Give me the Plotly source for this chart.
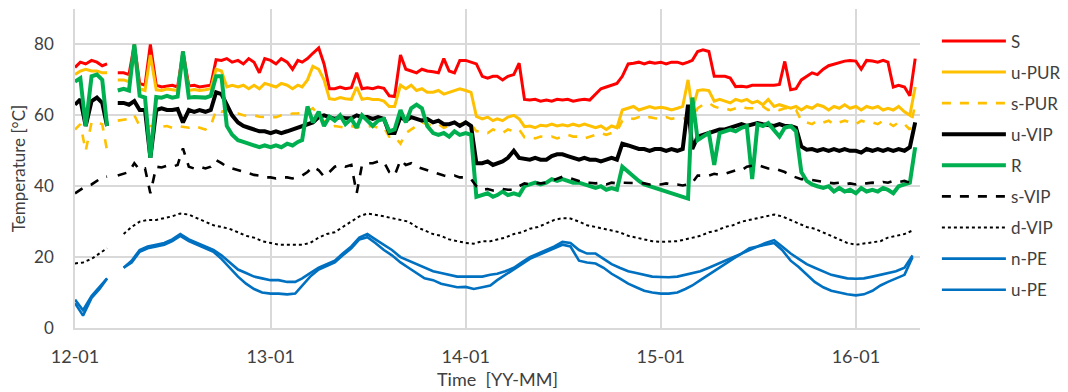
import plotly.graph_objects as go

# ---------------- sampling dates ----------------
MONTHS = [f"{y}-{m:02d}" for y in range(2012, 2017) for m in range(1, 13)][:52]
DATES_10D = [f"{ym}-{d:02d}" for ym in MONTHS for d in (1, 11, 21)]
DATES_15D = [f"{ym}-{d:02d}" for ym in MONTHS for d in (1, 16)]

YEAR_TICKS = ["2012-01-01", "2013-01-01", "2014-01-01", "2015-01-01", "2016-01-01"]
Y_TICKS = [0, 20, 40, 60, 80]

# ---------------- series (10-day sampling) ----------------
S = [
    73.5, 75, 74.5, 75.5, 75, 74, 74.5, None, 72, 72, 71.5, 80, 69, 68.5, 80, 68.5, 68, 68.3,
    68.5, 68, 78, 68.3, 68.5, 68, 68.2, 68.5, 75.7, 75.5, 76, 75, 75.5, 74.5, 76, 75, 72, 76,
    75.5, 74.5, 76, 75, 73, 75.5, 75, 76, 77.5, 79, 74.5, 67.5, 67.5, 68, 67.5, 67.8, 72, 67.5,
    67.8, 67.5, 68, 67.6, 65.5, 65.3, 77, 73, 72.5, 72, 73, 72.5, 72.3, 72, 76, 72.5, 72, 75.5,
    75.5, 75, 74.5, 71, 70.5, 71, 71, 70, 71, 71.5, 74.7, 64.5, 64.3, 64.5, 64, 64.3, 64, 64.5,
    64.3, 64.5, 64, 64.3, 64.5, 64.3, 66, 67.5, 68, 68.5, 69, 71, 74.5, 74.7, 75, 74.5, 75, 74.7,
    75, 74.5, 75, 75, 74.5, 75, 75.5, 78, 78.5, 78, 71, 71, 71, 70.5, 68.1, 68.2, 68, 68.5,
    68.5, 68.3, 68.5, 68.5, 68.7, 75.2, 67.2, 67.5, 70, 71, 72, 71.5, 73, 74, 74.5, 75, 75.3, 75.5,
    75.3, 73, 75.5, 75.3, 75, 75.5, 75, 68, 68.5, 68, 65.5, 76,
]
U_PUR = [
    71.5, 72.5, 73, 72.5, 72.5, 72, 72, None, 70, 70, 69.5, 78, 67.5, 67, 77, 67.2, 67, 67.4,
    67.2, 67, 77, 67, 67.3, 67, 67.2, 67.5, 73, 72.5, 68, 68.5, 68, 68.5, 67.5, 68.5, 67.5, 69,
    68.5, 68, 69, 68.5, 67.5, 68.5, 68, 70, 73.8, 73, 70, 64.7, 64.5, 65, 64.7, 64.5, 68, 64.5,
    64.8, 64.5, 64.5, 64, 62.5, 62.5, 68.5, 67.5, 68.5, 67, 67.5, 66.5, 66.5, 67, 66, 66.5, 67, 67.5,
    67, 66.5, 59.7, 59, 59.5, 58.5, 59, 58.5, 59.5, 60, 59, 56.8, 57, 56.5, 57.2, 57, 57.5, 57,
    57.3, 57, 57.5, 57, 57.5, 57, 56.5, 57, 56, 57, 56.5, 61.5, 62, 62.5, 61.5, 62, 62.5, 62,
    62.3, 62, 61.5, 62, 62.5, 70, 61.5, 67, 67.2, 67, 64, 64.5, 64, 63.5, 64.5, 64, 64.5, 63.5,
    64, 63, 64.5, 62.5, 63, 62.5, 62, 62.5, 61.5, 62.5, 62, 63, 62.5, 61.5, 62.5, 62, 63, 62,
    62.5, 61.5, 62.5, 62, 62.5, 61.5, 62, 61.5, 62.5, 61, 60, 68,
]
S_PUR = [
    56, 57.5, 50, 58, 58, 57.5, 50, None, 58.5, 58.7, 59, 60, 57, 56.5, 57, 57, 56.8, 57,
    56.5, 57, 56.8, 56.5, 57, 56.5, 56, 57, 61.5, 61, 61.5, 60.5, 60.5, 60, 59.8, 60, 59.6, 59.5,
    59.6, 59.5, 60, 60, 60.5, 60.5, 61, 61, 62, 60, 58, 56.5, 57, 56.8, 56.5, 57, 56.5, 57,
    56.8, 57, 56.5, 56.5, 54, 54, 52, 55, 56, 57, 58, 57.5, 57, 57.5, 56.5, 57, 57.5, 57.5,
    58, 57.5, 55.5, 55.5, 55, 56, 55.5, 55, 56, 55.5, 56, 53.8, 54, 53.5, 54, 53.8, 54, 53.5,
    54, 54.5, 54, 54, 53.5, 54, 54.5, 55, 54.5, 55, 55.5, 58.5, 59.2, 59, 59.5, 59, 59.5, 59.2,
    59, 59.5, 59, 59.3, 59, 59.5, 59, 62, 63, 63.5, 62.5, 62, 62, 61.5, 62, 62.5, 62, 62,
    62, 62.5, 61.5, 62, 61.5, 62, 62, 61.5, 58.5, 58, 57.5, 58.5, 58, 58.5, 57.5, 58, 58.5, 58,
    57.5, 58.5, 58, 58, 57.5, 58.5, 58, 57, 58, 57.5, 56, 63,
]
U_VIP = [
    63, 64.5, 57, 64, 65, 63.5, 57, None, 63.5, 63.5, 63, 64, 61.5, 61.5, 48, 61.5, 62, 61.5,
    61.5, 61.8, 58, 61.5, 61, 61.5, 61, 61.5, 66.5, 66, 63, 60, 58, 57, 56.5, 56, 55.5, 55.5,
    55, 55.5, 55, 55.5, 56, 56.5, 57, 57.5, 58, 59.5, 60, 59.5, 59, 59.5, 59.2, 59.2, 60, 59.5,
    59.5, 59, 59.5, 59, 55, 55, 59.6, 58.5, 59.5, 59, 58.5, 59, 58, 58.5, 57.5, 57.5, 58, 57,
    58, 57, 46.5, 46.5, 47, 46, 46.5, 47, 48, 50, 48, 47.7, 47.5, 48, 47.5, 47.5, 48.5, 49,
    49, 48.5, 48, 47.5, 48, 47.5, 47.5, 47, 47.5, 48, 47.5, 52, 51.5, 51, 50.5, 50.5, 50, 50.5,
    50.5, 50, 50.5, 50, 50.5, 63, 50.5, 54, 54.5, 55, 55.5, 56, 56, 56.5, 57, 57.5, 57, 57.5,
    57.8, 57.5, 57.2, 57, 57.5, 57, 57, 56.5, 51.2, 50.3, 50.5, 50, 50.5, 50, 50.5, 50, 50.5, 50,
    50, 49.5, 50.5, 50, 50.5, 50, 50.5, 50, 50.5, 50, 51, 58,
]
R = [
    69.5, 70.5, 57, 71, 71.5, 70, 57, None, 67, 67.5, 67, 80, 65.5, 65, 48, 65.2, 65, 65.5,
    65, 65.3, 78, 65, 65.2, 65, 65, 65.5, 71, 71, 57, 54.5, 53, 52.5, 52, 51.5, 51, 51.5,
    51, 51.5, 51, 52, 51.5, 52.5, 53, 62.5, 58, 61, 57, 59.6, 58.5, 60, 57.5, 59, 56.5, 60,
    58.5, 57, 58.5, 59, 55.5, 56, 61.5, 58, 62, 63, 62, 57, 55, 54.5, 55, 54, 55.5, 54.5,
    55, 54.5, 37, 37.5, 38, 37, 37.5, 38.5, 37.5, 38, 37.5, 40, 40.5, 41, 40.5, 41, 42, 41.5,
    42, 41.5, 41, 41, 40.5, 40, 39.5, 40, 39, 39.5, 39, 45.5, 44, 42.5, 41.5, 40.5, 40, 39.5,
    39, 38.5, 38, 37.5, 37, 36.5, 65, 53, 54, 55, 46, 55, 55.5, 56, 55.5, 56.5, 57, 42,
    57.5, 57, 57.8, 56, 54, 56.5, 57, 55.5, 44, 41.5, 40.5, 40, 39.5, 40, 38.5, 39.5, 38.5, 39,
    38, 39.5, 38.5, 39, 38.5, 39.5, 39, 38, 40, 40.5, 41, 51,
]
S_VIP = [
    38, 39, 40, 40.5, 41.5, 42.5, 42.7, None, 43, 43.5, 44, 46.5, 44.6, 45, 38, 45.5, 45.3, 45.8,
    45.5, 46, 50.7, 45.5, 45, 45.5, 45, 45.5, 47.4, 46.5, 45.5, 45, 44.5, 44, 43.5, 43.2, 43, 42.5,
    42.5, 42.2, 42.5, 42.5, 42.2, 42.7, 43, 44, 45.5, 44.5, 42.7, 44, 45.5, 46, 45.5, 46, 38, 46,
    46.5, 46.5, 47, 46.8, 44, 43, 47.4, 46, 46.5, 45.5, 45, 44.5, 44, 43.5, 43, 42.7, 43, 42.5,
    42.5, 42, 40, 39, 39.2, 38.8, 39, 39.2, 39, 39, 40, 40.8, 40.5, 41, 40.8, 41, 41.5, 42,
    42.7, 42.5, 42, 41.5, 41, 41, 40.8, 41, 40.5, 41, 40.8, 41, 41, 40.8, 41, 40.8, 40.5, 40.7,
    40.5, 40.8, 40.5, 40.5, 40.2, 40.5, 41, 43, 43, 43, 43.5, 43.2, 43.5, 44, 44.5, 44.5, 45.5, 45.8,
    46, 45.5, 45, 45, 44.5, 44, 43, 42.5, 42, 42, 41.7, 41.5, 41.2, 41, 40.8, 41, 40.5, 40.8,
    40.5, 41, 40.8, 41, 40.8, 41.2, 41, 41.5, 41.2, 41.5, 41, 42,
]

# ---------------- series (half-month sampling) ----------------
D_VIP = [
    18.2, 18.5, 19.5, 21, 22.5, None, 26.5, 28.5, 30, 30.5, 30.5, 31, 31.5, 32.3, 32, 31, 30, 29, 28.5, 28, 27, 26, 25.5, 24.5,
    24, 23.5, 23.5, 23.4, 23.5, 24, 25.5, 26.5, 27, 28.5, 30, 31.5, 32.3, 32, 31.5, 31, 30.5, 30, 28.5, 27.5, 26.5, 26, 25, 24.5,
    24, 23.8, 24.5, 24.5, 25, 25.5, 26.5, 27, 28, 28.5, 29.5, 30.5, 31, 30.9, 30, 29, 28.5, 28, 27.5, 27, 26, 25.5, 25, 24.5,
    24.3, 24.3, 24.5, 25, 25.5, 26, 27, 27.5, 28.5, 29, 30, 30.5, 31, 31.5, 32, 31.5, 30.5, 29.5, 28.5, 28, 27, 26, 25, 24,
    23.5, 23.8, 24, 24.5, 25.5, 26, 26.5, 27.5,
]
N_PE = [
    8, 5, 9, 11.5, 14, None, 17, 19, 22, 23, 23.5, 24, 25, 26.5, 25, 24, 23, 22, 20.5, 18.5, 16.5, 15.5, 14.5, 14,
    13.5, 13.5, 13, 13, 14, 15.5, 17, 18, 19, 21, 23, 25.5, 26.5, 25, 23.5, 22, 20, 19, 18, 17, 16, 15.5, 15, 14.5,
    14.5, 14.4, 14.5, 15, 15.3, 16, 17, 18.5, 20, 21, 22, 23, 24.3, 24, 22, 21, 21, 19.5, 18, 17, 16, 15.5, 15, 14.5,
    14.4, 14.3, 14.5, 15, 15.5, 16, 17, 18, 19, 20, 21, 22.5, 23, 24, 24.8, 23, 21, 19.5, 18, 17, 16, 15, 14.5, 14,
    13.9, 14, 14.5, 15, 15.5, 16, 17, 20.5,
]
U_PE = [
    7, 3.5, 8.5, 11, 14, None, 17, 18.5, 21.5, 22.5, 23, 23.5, 24.5, 26, 24.5, 23.5, 22.5, 21.5, 19.5, 17, 14.5, 12.5, 11, 10,
    9.7, 9.7, 9.5, 9.7, 12, 14.5, 16.5, 17.5, 18.5, 20.5, 22.5, 25, 25.6, 24, 22, 20.5, 18.5, 17, 15.5, 14, 13.5, 12.5, 12, 11.5,
    11.6, 11, 11.5, 12, 13.5, 15, 16.5, 18, 19.5, 20.5, 21.5, 22.5, 23.5, 23, 19, 18.5, 18.2, 17, 15.3, 14, 12.5, 11.5, 10.5, 10,
    9.7, 9.7, 10, 11, 12, 13.5, 15, 16.5, 18, 19.5, 21, 22, 23, 23.5, 24, 22, 19, 17.2, 15, 13, 11.5, 10.5, 10, 9.5,
    9.2, 9.5, 10.5, 12, 13, 14, 15, 20,
]

RED, ORANGE, BLACK, GREEN, BLUE = "#FF0000", "#FFC000", "#000000", "#00B050", "#0070C0"

SERIES = [
    ("S", DATES_10D, S, RED, "solid", 3),
    ("u-PUR", DATES_10D, U_PUR, ORANGE, "solid", 3),
    ("s-PUR", DATES_10D, S_PUR, ORANGE, "dash", 2.6),
    ("u-VIP", DATES_10D, U_VIP, BLACK, "solid", 4),
    ("R", DATES_10D, R, GREEN, "solid", 4),
    ("s-VIP", DATES_10D, S_VIP, BLACK, "dash", 2.6),
    ("d-VIP", DATES_15D, D_VIP, BLACK, "dot", 2),
    ("n-PE", DATES_15D, N_PE, BLUE, "solid", 2.6),
    ("u-PE", DATES_15D, U_PE, BLUE, "solid", 2.6),
]

fig = go.Figure()
for name, xs, ys, color, dash, width in SERIES:
    fig.add_trace(go.Scatter(
        x=xs[:len(ys)], y=ys, name=name, mode="lines", legendgroup=name,
        line=dict(color=color, dash=dash, width=width), connectgaps=False,
    ))

FONT = "Lato, 'Noto Sans', sans-serif"
GRID = "#D9D9D9"
TXT = "#404040"
# the page body adds an 8px offset, so the figure is 8px smaller on each axis
fig.update_layout(
    width=1060, height=384,
    margin=dict(l=67, r=148, t=1, b=64, autoexpand=False),
    plot_bgcolor="white", paper_bgcolor="white",
    font=dict(family=FONT, color=TXT, size=17),
    legend=dict(x=1.02, y=0.955, xanchor="left", yanchor="top",
                font=dict(size=17, color=TXT), tracegroupgap=6, itemwidth=64,
                bgcolor="rgba(0,0,0,0)"),
    showlegend=True,
)
fig.update_xaxes(
    type="date", range=["2012-01-01", "2016-04-30"],
    tickvals=YEAR_TICKS, tickformat="%y-%m", automargin=False,
    showgrid=True, gridcolor=GRID, gridwidth=1.5,
    showline=True, linecolor=GRID, linewidth=1.5,
    ticks="", ticklabelstandoff=12,
    tickfont=dict(size=18, color=TXT),
    title=dict(text="Time  [YY-MM]", font=dict(size=18, color=TXT), standoff=7),
)
fig.update_yaxes(
    range=[0, 90], tickvals=Y_TICKS, automargin=False,
    showgrid=True, gridcolor=GRID, gridwidth=1.5, zeroline=False,
    showline=True, linecolor=GRID, linewidth=1.5,
    ticks="", ticklabelstandoff=16,
    tickfont=dict(size=17, color=TXT),
    title=dict(text="Temperature [°C]", font=dict(size=17, color=TXT), standoff=8),
)

fig.write_html("out.html")
